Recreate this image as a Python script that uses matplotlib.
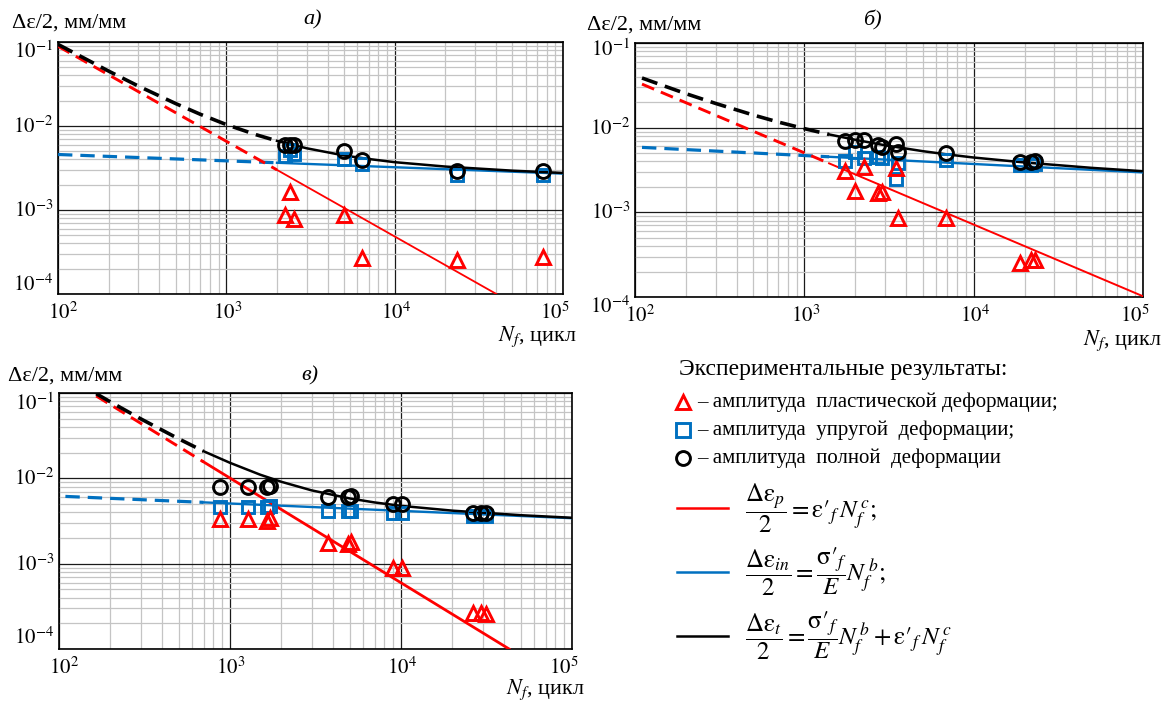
import matplotlib
matplotlib.use('Agg')
import matplotlib.pyplot as plt
import matplotlib.transforms as mtransforms
from matplotlib.lines import Line2D
from matplotlib.ticker import LogLocator
import numpy as np

plt.rcParams['font.family'] = ['Liberation Serif', 'DejaVu Serif']
plt.rcParams['mathtext.fontset'] = 'stix'

RED = '#ff0000'
BLUE = '#0070c0'
BLACK = '#000000'

# ---- panel а) ----
a_split = 2000
a_plast_N = [100, 2000, 40200]
a_plast_e = [0.089, 3.0e-3, 1.0e-4]
a_elast_N = [100, 2000, 100000]
a_elast_e = [4.58e-3, 3.65e-3, 2.71e-3]
a_total_N = [100, 200, 300, 500, 700, 1000, 1500, 2000, 3000, 5000, 7000, 10000, 20000, 50000, 100000]
a_total_e = [0.0937, 0.0450, 0.0299, 0.0185, 0.0138, 0.0104, 0.00788, 0.00665, 0.00543, 0.00446,
             0.00405, 0.00371, 0.00329, 0.00294, 0.00276]
a_pts_N = [2230, 2380, 2530, 4970, 6370, 23300, 75700]
a_tri = [8.7e-4, 1.64e-3, 7.9e-4, 8.7e-4, 2.68e-4, 2.56e-4, 2.75e-4]
a_sq = [4.4e-3, 5.2e-3, 4.6e-3, 4.1e-3, 3.56e-3, 2.6e-3, 2.6e-3]
a_circ = [5.9e-3, 6.0e-3, 6.0e-3, 5.0e-3, 3.9e-3, 2.9e-3, 2.95e-3]

# ---- panel б) ----
b_split = 1400
b_plast_N = [110, 1400, 100000]
b_plast_e = [0.0327, 3.79e-3, 1.02e-4]
b_elast_N = [110, 1400, 100000]
b_elast_e = [5.85e-3, 4.53e-3, 2.96e-3]
b_total_N = [110, 150, 200, 300, 500, 700, 1000, 1400, 2000, 3000, 5000, 7000, 10000, 20000, 50000, 100000]
b_total_e = [0.0386, 0.0309, 0.0252, 0.0193, 0.0141, 0.01167, 0.00974, 0.00832, 0.00719, 0.00619,
             0.00528, 0.00483, 0.00444, 0.00388, 0.00335, 0.00306]
b_pts_N = [1730, 1990, 2250, 2720, 2860, 3460, 3580, 6860, 18700, 21800, 22900]
b_tri = [3.05e-3, 1.78e-3, 3.4e-3, 1.67e-3, 1.72e-3, 3.35e-3, 8.6e-4, 8.65e-4, 2.53e-4, 2.77e-4, 2.7e-4]
b_sq = [4.0e-3, 5.2e-3, 4.4e-3, 4.5e-3, 4.4e-3, 2.5e-3, 3.8e-3, 4.1e-3, 3.6e-3, 3.65e-3, 3.7e-3]
b_circ = [7.0e-3, 7.1e-3, 7.1e-3, 6.2e-3, 5.9e-3, 6.5e-3, 5.1e-3, 5.0e-3, 3.95e-3, 3.95e-3, 4.0e-3]

# ---- panel в) ----
c_split = 700
c_plast_N = [165, 700, 42900]
c_plast_e = [0.0923, 0.0156, 1.0e-4]
c_elast_N = [109, 700, 100000]
c_elast_e = [6.14e-3, 5.23e-3, 3.41e-3]
c_total_N = [165, 200, 300, 500, 700, 1000, 1500, 2000, 3000, 5000, 7000, 10000, 20000, 50000, 100000]
c_total_e = [0.0982, 0.0786, 0.0499, 0.0291, 0.0208, 0.0152, 0.01104, 0.0091, 0.00723, 0.00582,
             0.00522, 0.00476, 0.00418, 0.0037, 0.00345]
c_pts_N = [870, 1270, 1650, 1720, 3720, 4930, 5100, 8930, 10200, 26300, 29200, 31600]
c_tri = [3.3e-3, 3.35e-3, 3.15e-3, 3.4e-3, 1.73e-3, 1.7e-3, 1.8e-3, 8.8e-4, 8.9e-4, 2.65e-4, 2.65e-4, 2.6e-4]
c_sq = [4.65e-3, 4.65e-3, 4.6e-3, 4.7e-3, 4.1e-3, 4.1e-3, 4.15e-3, 3.9e-3, 3.92e-3, 3.65e-3, 3.65e-3, 3.65e-3]
c_circ = [8.0e-3, 8.0e-3, 7.9e-3, 8.1e-3, 6.0e-3, 6.0e-3, 6.2e-3, 5.0e-3, 5.05e-3, 3.95e-3, 3.95e-3, 3.95e-3]

x_ticks = [1e2, 1e3, 1e4, 1e5]
y_ticks = [1e-4, 1e-3, 1e-2, 1e-1]

W, H = 1166, 706
fig = plt.figure(figsize=(W / 100, H / 100), dpi=100)


def px_axes(l, t, r, b):
    return fig.add_axes([l / W, 1 - b / H, (r - l) / W, (b - t) / H])


def two_part(ax, N, e, split, color, lw_d, lw_s, dashes):
    N = np.array(N)
    e = np.array(e)
    m1 = N <= split
    m2 = N >= split
    ax.plot(N[m1], e[m1], color=color, lw=lw_d, dashes=dashes, solid_capstyle='butt', zorder=3)
    ax.plot(N[m2], e[m2], color=color, lw=lw_s, zorder=3)


def px(dx, dy):
    return mtransforms.ScaledTranslation(dx / 100, dy / 100, fig.dpi_scale_trans)


def panel(ax, split, pN, pe, eN, ee, tN, te, ptsN, tri, sq, circ, red_lw, yoff):
    ax.set_xscale('log')
    ax.set_yscale('log')
    ax.set_xlim(1e2, 1e5)
    ax.set_ylim(1e-4, 1e-1)
    ax.xaxis.set_major_locator(LogLocator(base=10))
    ax.xaxis.set_minor_locator(LogLocator(base=10, subs=np.arange(2, 10)))
    ax.yaxis.set_major_locator(LogLocator(base=10))
    ax.yaxis.set_minor_locator(LogLocator(base=10, subs=np.arange(2, 10)))
    ax.grid(which='minor', color='#c4c4c4', lw=0.9)
    ax.grid(which='major', color='#1a1a1a', lw=0.9)
    ax.set_axisbelow(True)
    ax.tick_params(which='both', length=0, labelbottom=False, labelleft=False)
    for s in ax.spines.values():
        s.set_linewidth(1.2)
        s.set_color('black')

    two_part(ax, eN, ee, split, BLUE, 2.3, 1.7, (4.5, 2.5))
    two_part(ax, pN, pe, split, RED, 2.1, red_lw, (4.5, 2.5))
    two_part(ax, tN, te, split, BLACK, 2.6, 1.8, (4.5, 2.2))

    ax.plot(ptsN, sq, ls='none', marker='s', ms=9, mfc='none', mec=BLUE, mew=2.1, zorder=4)
    ax.plot(ptsN, tri, ls='none', marker='^', ms=10, mfc='none', mec=RED, mew=2.1, zorder=4)
    ax.plot(ptsN, circ, ls='none', marker='o', ms=10, mfc='none', mec=BLACK, mew=2.1, zorder=5)

    tx = mtransforms.blended_transform_factory(ax.transData, ax.transAxes)
    for i, v in enumerate(x_ticks):
        dx = 5 if i == 0 else (-8 if i == len(x_ticks) - 1 else 1)
        ax.text(v, 0, '$10^{%d}$' % int(round(np.log10(v))), transform=tx + px(dx, -19),
                ha='center', va='center', fontsize=15)
    ty = mtransforms.blended_transform_factory(ax.transAxes, ax.transData)
    for i, v in enumerate(y_ticks):
        dy = yoff[0] if i == 0 else (yoff[1] if i == len(y_ticks) - 1 else -1)
        ax.text(0, v, '$10^{%d}$' % int(round(np.log10(v))), transform=ty + px(-5, dy),
                ha='right', va='center', fontsize=15)


ax_a = px_axes(58, 42, 563, 294)
panel(ax_a, a_split, a_plast_N, a_plast_e, a_elast_N, a_elast_e, a_total_N, a_total_e,
      a_pts_N, a_tri, a_sq, a_circ, 1.3, (9, -10))
ax_b = px_axes(635, 43, 1143, 297)
panel(ax_b, b_split, b_plast_N, b_plast_e, b_elast_N, b_elast_e, b_total_N, b_total_e,
      b_pts_N, b_tri, b_sq, b_circ, 1.4, (-10, -7))
ax_c = px_axes(59, 393, 572, 649)
panel(ax_c, c_split, c_plast_N, c_plast_e, c_elast_N, c_elast_e, c_total_N, c_total_e,
      c_pts_N, c_tri, c_sq, c_circ, 2.0, (11, -11))


def ftext(x, y, s, **kw):
    return fig.text(x / W, 1 - y / H, s, **kw)


ylab = 'Δε/2, мм/мм'
ftext(12, 23, ylab, fontsize=16, va='center', ha='left')
ftext(587, 25, ylab, fontsize=16, va='center', ha='left')
ftext(8, 376, ylab, fontsize=16, va='center', ha='left')

ftext(313, 20, 'а)', fontsize=16, style='italic', va='center', ha='center')
ftext(872, 20, 'б)', fontsize=16, style='italic', va='center', ha='center')
ftext(310, 376, 'в)', fontsize=16, style='italic', va='center', ha='center')

xlab = r'$N_f$, цикл'
ftext(577, 337, xlab, fontsize=16, va='center', ha='right')
ftext(1162, 341, xlab, fontsize=16, va='center', ha='right')
ftext(585, 690, xlab, fontsize=16, va='center', ha='right')

# legend
ftext(679, 370, 'Экспериментальные результаты:', fontsize=17, va='center', ha='left')
leg_rows = [('^', RED, '– амплитуда  пластической деформации;', 402),
            ('s', BLUE, '– амплитуда  упругой  деформации;', 430),
            ('o', BLACK, '– амплитуда  полной  деформации', 458)]
for m, col, txt, y in leg_rows:
    fig.add_artist(Line2D([683 / W], [1 - y / H], transform=fig.transFigure, ls='none',
                          marker=m, ms=10, mfc='none', mec=col, mew=2.1))
    ftext(697, y, txt, fontsize=15, va='center', ha='left')

eps = r'\mathrm{\varepsilon}'
sig = r'\mathrm{\sigma}'
formulas = [(RED, r'$\dfrac{\Delta %s_p}{2}=%s\prime_{f}\,N_f^{\,c};$' % (eps, eps), 508),
            (BLUE, r'$\dfrac{\Delta %s_{in}}{2}=\dfrac{%s\prime_{f}}{E}N_f^{\,b};$' % (eps, sig), 572),
            (BLACK, r'$\dfrac{\Delta %s_t}{2}=\dfrac{%s\prime_{f}}{E}N_f^{\,b}+%s\prime_{f}\,N_f^{\,c}$'
             % (eps, sig, eps), 636)]
for col, f, y in formulas:
    fig.add_artist(Line2D([677 / W, 728 / W], [1 - y / H, 1 - y / H], transform=fig.transFigure,
                          color=col, lw=1.8))
    ftext(745, y, f, fontsize=18, va='center', ha='left')

fig.savefig('out.png', dpi=100)
